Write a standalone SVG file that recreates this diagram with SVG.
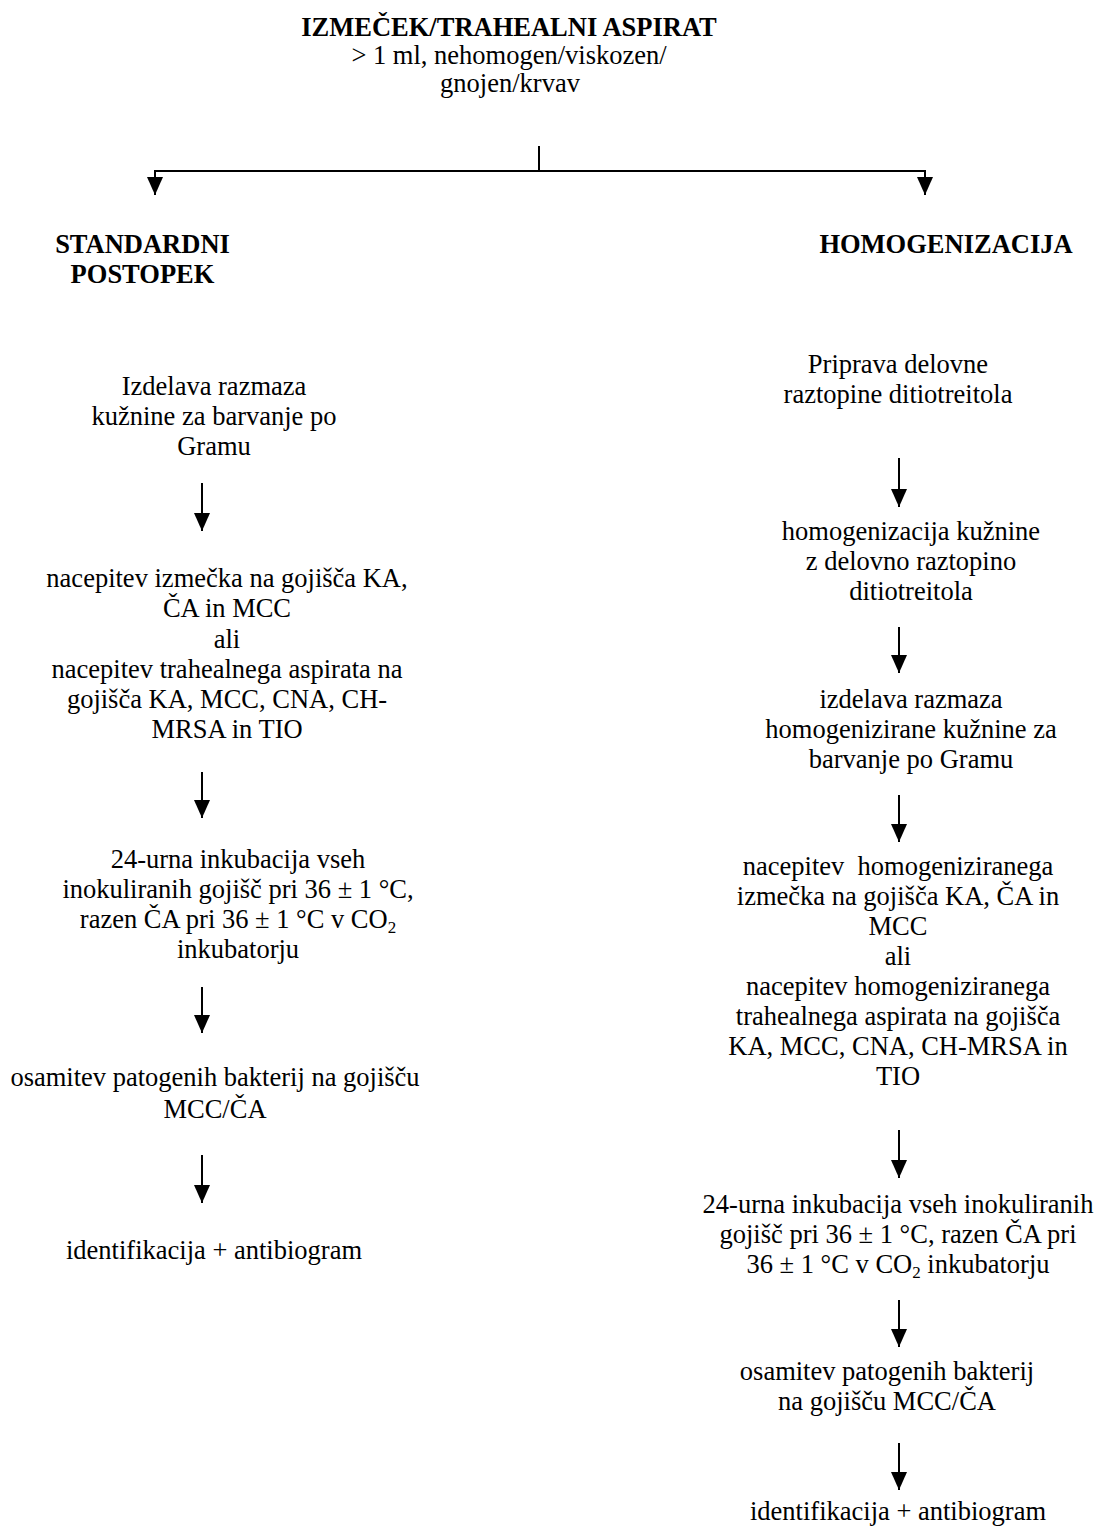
<svg xmlns="http://www.w3.org/2000/svg" width="1099" height="1530" viewBox="0 0 1099 1530">
<style>
text{font-family:"Liberation Serif","Times New Roman",serif;font-size:26.5px;fill:#000;text-anchor:middle}
.b{font-weight:bold}
.c{stroke:#000;stroke-width:2;fill:none}
.sub{font-size:17px}
</style>
<defs>
<marker id="ah" markerUnits="userSpaceOnUse" markerWidth="18" markerHeight="16" viewBox="0 0 18 16" refX="18" refY="8" orient="auto">
<path d="M0,0 L18,8 L0,16 z" fill="#000"/>
</marker>
</defs>
<rect width="1099" height="1530" fill="#fff"/>
<g id="connectors">
<path class="c" d="M539,146 V171"/>
<path class="c" d="M154,171 H926"/>
<path class="c" d="M155,171 V195" marker-end="url(#ah)"/>
<path class="c" d="M925,171 V195" marker-end="url(#ah)"/>
<path class="c" d="M202,483 V531" marker-end="url(#ah)"/>
<path class="c" d="M202,772 V818" marker-end="url(#ah)"/>
<path class="c" d="M202,987 V1033" marker-end="url(#ah)"/>
<path class="c" d="M202,1155 V1203" marker-end="url(#ah)"/>
<path class="c" d="M899,458 V507" marker-end="url(#ah)"/>
<path class="c" d="M899,627 V673" marker-end="url(#ah)"/>
<path class="c" d="M899,795 V842" marker-end="url(#ah)"/>
<path class="c" d="M899,1130 V1178" marker-end="url(#ah)"/>
<path class="c" d="M899,1300 V1347" marker-end="url(#ah)"/>
<path class="c" d="M899,1443 V1490" marker-end="url(#ah)"/>
</g>
<g id="n-root">
<text class="b" x="509" y="36">IZMEČEK/TRAHEALNI ASPIRAT</text>
<text x="509" y="64">&gt; 1 ml, nehomogen/viskozen/</text>
<text x="510" y="92">gnojen/krvav</text>
</g>
<g id="n-standard">
<text class="b" x="142.5" y="253">STANDARDNI</text>
<text class="b" x="142.5" y="283">POSTOPEK</text>
</g>
<g id="n-homog">
<text class="b" x="946" y="253">HOMOGENIZACIJA</text>
</g>
<g id="n-l1">
<text x="214" y="395">Izdelava razmaza</text>
<text x="214" y="425">kužnine za barvanje po</text>
<text x="214" y="455">Gramu</text>
</g>
<g id="n-l2">
<text x="227" y="587">nacepitev izmečka na gojišča KA,</text>
<text x="227" y="617">ČA in MCC</text>
<text x="227" y="647.5">ali</text>
<text x="227" y="678">nacepitev trahealnega aspirata na</text>
<text x="227" y="708">gojišča KA, MCC, CNA, CH-</text>
<text x="227" y="738">MRSA in TIO</text>
</g>
<g id="n-l3">
<text x="238" y="868">24-urna inkubacija vseh</text>
<text x="238" y="898">inokuliranih gojišč pri 36 ± 1 °C,</text>
<text x="238" y="928">razen ČA pri 36 ± 1 °C v CO<tspan class="sub" dy="5">2</tspan></text>
<text x="238" y="958">inkubatorju</text>
</g>
<g id="n-l4">
<text x="215" y="1086">osamitev patogenih bakterij na gojišču</text>
<text x="215" y="1118">MCC/ČA</text>
</g>
<g id="n-l5">
<text x="214" y="1259">identifikacija + antibiogram</text>
</g>
<g id="n-r1">
<text x="898" y="373">Priprava delovne</text>
<text x="898" y="403">raztopine ditiotreitola</text>
</g>
<g id="n-r2">
<text x="911" y="540">homogenizacija kužnine</text>
<text x="911" y="570">z delovno raztopino</text>
<text x="911" y="600">ditiotreitola</text>
</g>
<g id="n-r3">
<text x="911" y="708">izdelava razmaza</text>
<text x="911" y="738">homogenizirane kužnine za</text>
<text x="911" y="768">barvanje po Gramu</text>
</g>
<g id="n-r4">
<text x="898" y="875" xml:space="preserve">nacepitev  homogeniziranega</text>
<text x="898" y="905">izmečka na gojišča KA, ČA in</text>
<text x="898" y="935">MCC</text>
<text x="898" y="965">ali</text>
<text x="898" y="995">nacepitev homogeniziranega</text>
<text x="898" y="1025">trahealnega aspirata na gojišča</text>
<text x="898" y="1055">KA, MCC, CNA, CH-MRSA in</text>
<text x="898" y="1085">TIO</text>
</g>
<g id="n-r5">
<text x="898" y="1213">24-urna inkubacija vseh inokuliranih</text>
<text x="898" y="1243">gojišč pri 36 ± 1 °C, razen ČA pri</text>
<text x="898" y="1273">36 ± 1 °C v CO<tspan class="sub" dy="5">2</tspan><tspan dy="-5"> inkubatorju</tspan></text>
</g>
<g id="n-r6">
<text x="887" y="1380">osamitev patogenih bakterij</text>
<text x="887" y="1410">na gojišču MCC/ČA</text>
</g>
<g id="n-r7">
<text x="898" y="1520">identifikacija + antibiogram</text>
</g>
</svg>
